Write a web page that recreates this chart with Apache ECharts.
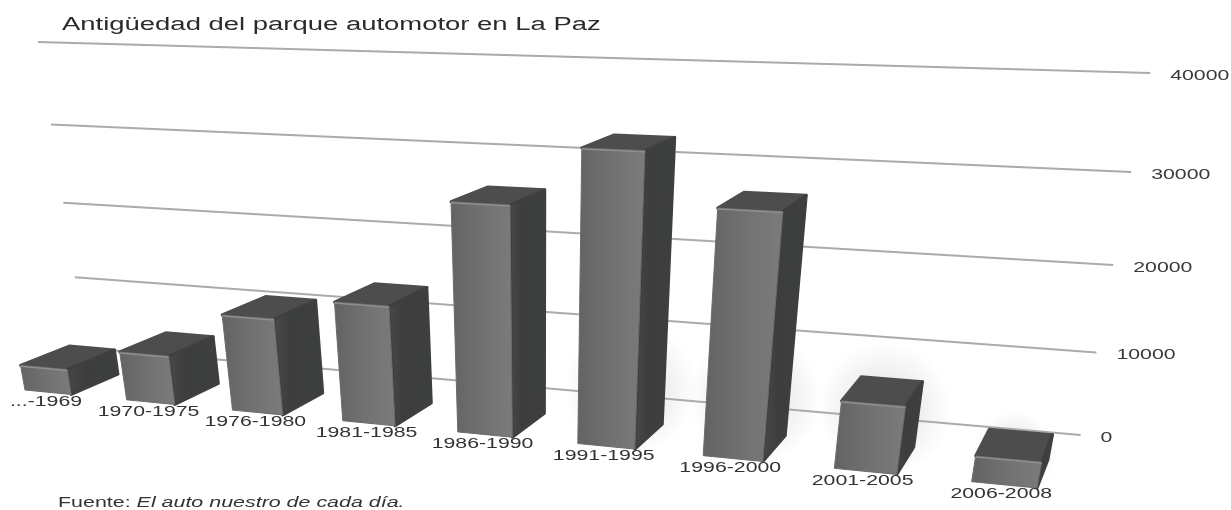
<!DOCTYPE html>
<html>
<head>
<meta charset="utf-8">
<title>Antigüedad del parque automotor en La Paz</title>
<script src="https://cdn.jsdelivr.net/npm/echarts@6/dist/echarts.min.js"></script>
<style>
  html, body { margin: 0; padding: 0; background: #fff; }
  #chart { width: 1231px; height: 510px; }
</style>
</head>
<body>
<div id="chart"></div>
<script>
const categories = ["...-1969", "1970-1975", "1976-1980", "1981-1985", "1986-1990", "1991-1995", "1996-2000", "2001-2005", "2006-2008"];
const vehicles = [3300, 6240, 12000, 14600, 26800, 33100, 27650, 7860, 2980];
const yTicks = [0, 10000, 20000, 30000, 40000];

// camera: homogeneous origin and the three axis directions, fitted on the picture
const ORIGIN = [25, 390, 1];
const DIR_X = [99.16, 1.953, -0.01973];
const DIR_Y = [-14.04, -84.34, -0.026];
const DIR_Z = [1275, -130, 1];

const BAR_W = 0.46;
const BAR_D = 0.04;
const WALL_D = 0.0813;
const WALL_FROM = -0.354;
const WALL_TO = 8.63;
const STRETCH = 1.52; // the original picture is stretched sideways
const SHADOW_FROM = 5; // only the bars on the right throw a visible shadow

// axis value -> grid pixel (library) -> perspective
function place(api, idx, value, offset, depth) {
  const o = api.coord([0, 0]);
  const p = api.coord([idx, value]);
  const i = (p[0] - o[0]) / (api.coord([1, 0])[0] - o[0]) + offset;
  const v = (o[1] - p[1]) / (o[1] - api.coord([0, 10000])[1]);
  const h = [0, 1, 2].map(k => ORIGIN[k] + i * DIR_X[k] + v * DIR_Y[k] + depth * DIR_Z[k]);
  return [h[0] / h[2], h[1] / h[2]];
}

function renderGridLine(params, api) {
  const tick = api.value(0);
  const a = place(api, 0, tick, WALL_FROM, WALL_D);
  const b = place(api, 0, tick, WALL_TO, WALL_D);
  return {
    type: "group",
    children: [
      { type: "line", shape: { x1: a[0], y1: a[1], x2: b[0], y2: b[1] }, style: { stroke: "#ababab", lineWidth: 2 } },
      {
        type: "text", x: b[0] + 20, y: b[1] + 3, scaleX: STRETCH,
        style: { text: String(tick), font: "14px 'Liberation Sans'", fill: "#3a3a3a", textAlign: "left", textVerticalAlign: "middle" }
      }
    ]
  };
}

function renderShadow(params, api) {
  const idx = api.value(0);
  if (idx < SHADOW_FROM) return null;
  const top = Math.min(api.value(1), 7000);
  const c = place(api, idx, top, BAR_W / 2, BAR_D);
  return {
    type: "ellipse",
    shape: { cx: c[0] - 6, cy: c[1] + 22, rx: 100, ry: 25 + top / 7000 * 42 },
    style: {
      fill: new echarts.graphic.RadialGradient(0.5, 0.5, 0.5, [
        { offset: 0, color: "rgba(0,0,0,0.12)" },
        { offset: 0.55, color: "rgba(0,0,0,0.06)" },
        { offset: 1, color: "rgba(0,0,0,0)" }
      ])
    }
  };
}

function renderBar(params, api) {
  const idx = api.value(0);
  const val = api.value(1);
  const fbl = place(api, idx, 0, 0, 0);
  const fbr = place(api, idx, 0, BAR_W, 0);
  const ftl = place(api, idx, val, 0, 0);
  const ftr = place(api, idx, val, BAR_W, 0);
  const btl = place(api, idx, val, 0, BAR_D);
  const btr = place(api, idx, val, BAR_W, BAR_D);
  const bbr = place(api, idx, 0, BAR_W, BAR_D);
  const label = place(api, idx, 0, 0.21, 0);

  const frontFill = new echarts.graphic.LinearGradient(0, 0, 1, 0, [
    { offset: 0, color: "#636363" },
    { offset: 0.55, color: "#727272" },
    { offset: 1, color: "#7b7b7b" }
  ]);
  const sideFill = new echarts.graphic.LinearGradient(0, 0, 1, 0, [
    { offset: 0, color: "#4a4a4a" },
    { offset: 0.35, color: "#3c3d3d" },
    { offset: 1, color: "#3e3f3f" }
  ]);
  return {
    type: "group",
    children: [
      { type: "polygon", shape: { points: [ftl, btl, btr, ftr] }, style: { fill: "#4d4d4d", stroke: "#4d4d4d", lineWidth: 3, lineJoin: "round" } },
      { type: "polygon", shape: { points: [ftr, btr, bbr, fbr] }, style: { fill: sideFill, stroke: "#3e3f3f", lineWidth: 3, lineJoin: "round" } },
      { type: "polygon", shape: { points: [ftl, ftr, fbr, fbl] }, style: { fill: frontFill, stroke: "#6c6c6c", lineWidth: 1, lineJoin: "round" } },
      { type: "line", shape: { x1: ftl[0], y1: ftl[1] + 1, x2: ftr[0], y2: ftr[1] + 1 }, style: { stroke: "#8e8e8e", lineWidth: 1.5 } },
      {
        type: "text", x: label[0], y: label[1] + 10, scaleX: STRETCH,
        style: { text: categories[idx], font: "14px 'Liberation Sans'", fill: "#333333", textAlign: "center", textVerticalAlign: "middle" }
      }
    ]
  };
}

const chart = echarts.init(document.getElementById("chart"));
chart.setOption({
  animation: false,
  backgroundColor: "#ffffff",
  grid: { left: 100, right: 100, top: 60, bottom: 60 },
  xAxis: { type: "category", data: categories, boundaryGap: false, show: false },
  yAxis: { type: "value", min: 0, max: 40000, interval: 10000, show: false },
  graphic: [
    {
      type: "text", x: 62, y: 25, scaleX: 1.525,
      style: { text: "Antigüedad del parque automotor en La Paz", font: "18px 'Liberation Sans'", fill: "#2b2b2b", textAlign: "left", textVerticalAlign: "middle" }
    },
    {
      type: "text", x: 58, y: 503, scaleX: 1.53,
      style: {
        text: "{a|Fuente: }{b|El auto nuestro de cada día.}",
        textVerticalAlign: "middle",
        rich: {
          a: { font: "14px 'Liberation Sans'", fill: "#333333" },
          b: { font: "italic 14px 'Liberation Sans'", fill: "#333333" }
        }
      }
    }
  ],
  series: [
    { type: "custom", renderItem: renderShadow, data: categories.map((c, i) => [i, vehicles[i]]), silent: true },
    { type: "custom", renderItem: renderGridLine, data: yTicks.map(t => [t]), encode: { y: 0 }, silent: true },
    { type: "custom", renderItem: renderBar, data: categories.map((c, i) => [i, vehicles[i]]), silent: true }
  ]
});
</script>
</body>
</html>
